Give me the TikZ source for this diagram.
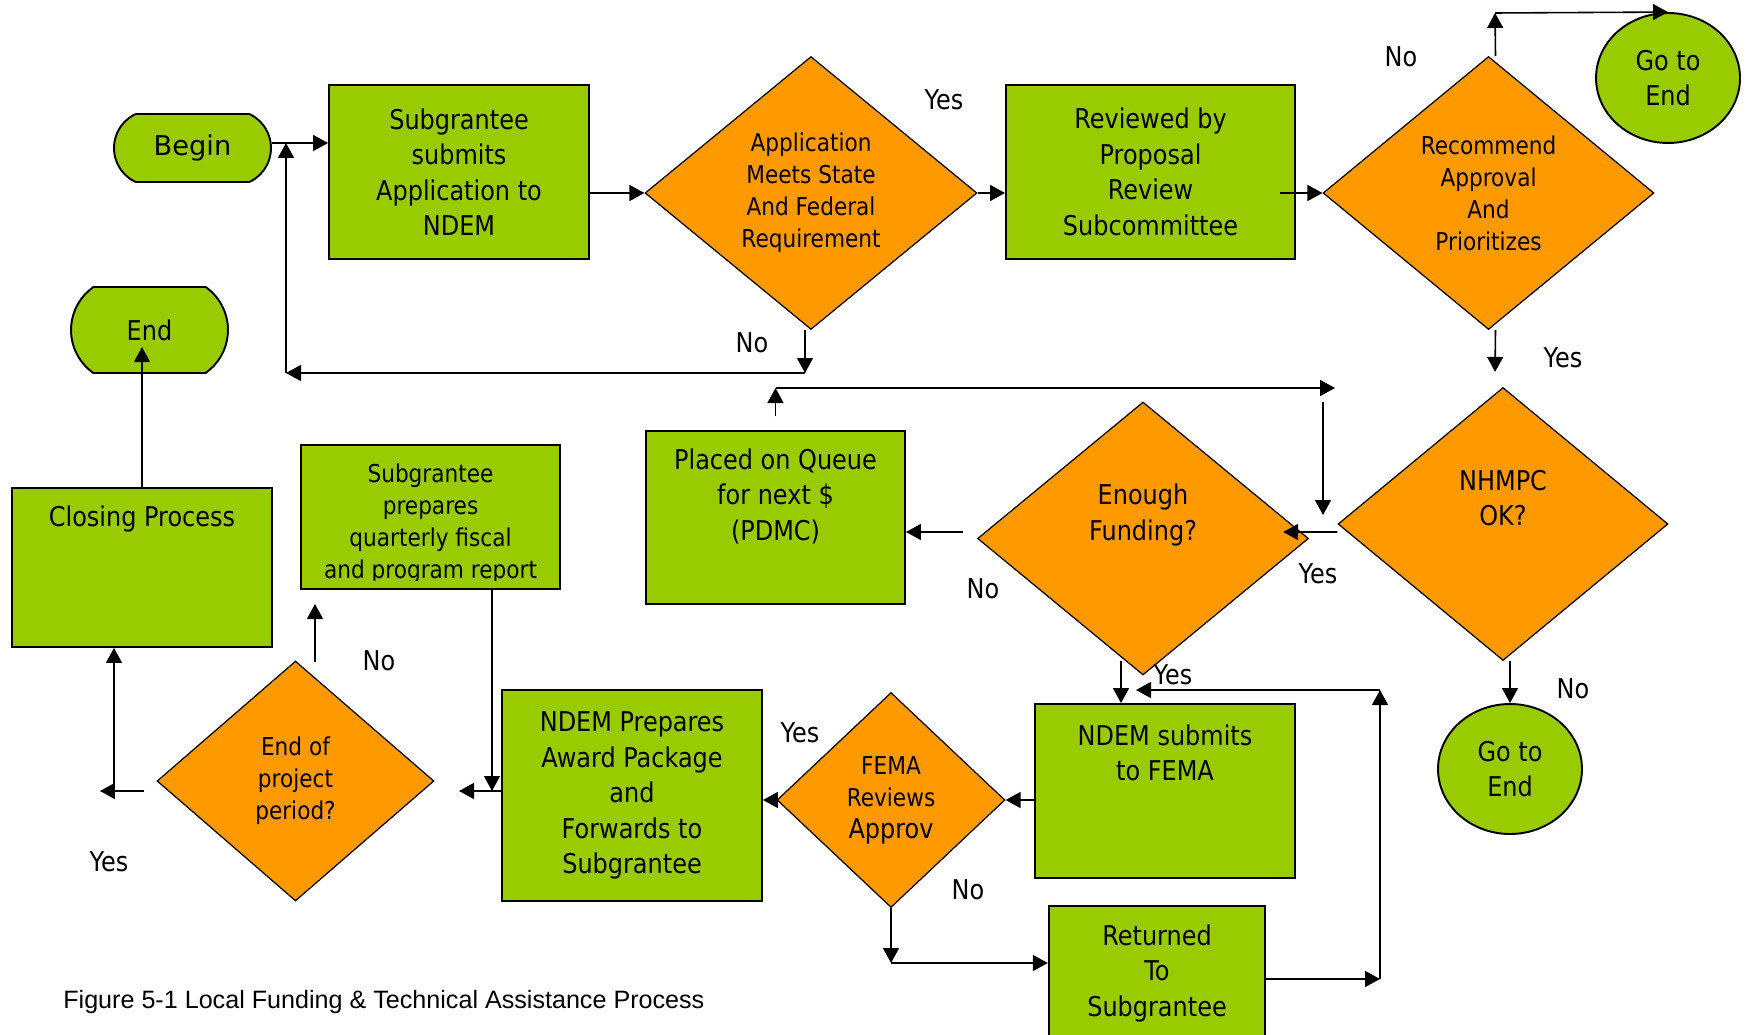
\documentclass[tikz,border=0pt]{standalone}
\usepackage{fontspec}
\setmainfont{DejaVu Sans}[FakeStretch=0.88]
\newfontfamily\widefont{DejaVu Sans}
\newfontfamily\capfont{Liberation Sans}
\usetikzlibrary{shapes.geometric,shapes.misc,arrows.meta}

\definecolor{boxgreen}{RGB}{153,204,0}
\definecolor{diaorange}{RGB}{255,153,0}
\newcommand\bigtxt{\fontsize{15.5}{20.2}\selectfont}
\newcommand\smalltxt{\fontsize{14}{18.2}\selectfont}

\tikzset{
  gbox/.style={draw, line width=1.1pt, fill=boxgreen, inner sep=0pt, align=center, font=\bigtxt},
  obox/.style={diamond, draw, line width=0.7pt, fill=diaorange, inner sep=0pt, align=center, font=\smalltxt},
  term/.style={rounded rectangle, draw, line width=1.1pt, fill=boxgreen, inner sep=0pt, font=\bigtxt},
  oval/.style={ellipse, draw, line width=1.1pt, fill=boxgreen, inner sep=0pt, align=center, font=\bigtxt},
  arr/.style={line width=0.9pt, -{Triangle[length=0.3cm,width=0.32cm]}},
  lbl/.style={font=\bigtxt, inner sep=0pt},
  txtL/.style={align=center, font=\bigtxt, inner sep=0pt},
  txtS/.style={align=center, font=\smalltxt, inner sep=0pt},
}

\begin{document}
\begin{tikzpicture}[x=0.02cm, y=-0.02cm]
\useasboundingbox (0,0) rectangle (1746,1034);

% 第一行
\node[term, rounded rectangle arc length=130, minimum width=3.14cm, minimum height=1.36cm, font=\widefont\bigtxt] (begin) at (192.5,148) {Begin};
\node[gbox, minimum width=5.2cm, minimum height=3.48cm] (sub) at (459,172) {Subgrantee\\submits\\Application to\\NDEM};
\node[obox, minimum width=6.64cm, minimum height=5.46cm] (app) at (811,193) {Application\\Meets State\\And Federal\\Requirement};
\node[gbox, minimum width=5.78cm, minimum height=3.48cm] (rev) at (1150.5,172) {Reviewed by\\Proposal\\Review\\Subcommittee};
\node[obox, minimum width=6.62cm, minimum height=5.46cm] (rec) at (1488.5,193) {Recommend\\Approval\\And\\Prioritizes};
\node[oval, minimum width=2.88cm, minimum height=2.6cm] (goend1) at (1668,78) {Go to\\End};

% 第二行
\node[term, rounded rectangle arc length=110, minimum width=3.14cm, minimum height=1.72cm] (end) at (149.5,330) {End};
\node[gbox, minimum width=5.2cm, minimum height=3.18cm] (closing) at (142,567.5) {};
\node[txtL] (closingtxt) at (142,519) {Closing Process};
\node[gbox, minimum width=5.18cm, minimum height=2.88cm] (report) at (430.5,517) {};
\begin{scope}
  \clip ([yshift=0.18cm]report.south west) rectangle (report.north east);
  \node[txtS] (reporttxt) at (430.5,524) {Subgrantee\\prepares\\quarterly fiscal\\and program report};
\end{scope}
\node[gbox, minimum width=5.18cm, minimum height=3.46cm] (queue) at (775.5,517.5) {};
\node[txtL] (queuetxt) at (775.5,496) {Placed on Queue\\for next \$\\(PDMC)};
\node[obox, minimum width=6.62cm, minimum height=5.46cm] (fund) at (1143,538.5) {};
\node[txtL] (fundtxt) at (1143,515) {Enough\\Funding?};
\node[obox, minimum width=6.6cm, minimum height=5.46cm] (nhmpc) at (1503,524) {};
\node[txtL] (nhmpctxt) at (1503,498) {NHMPC\\OK?};

% 第三行
\node[obox, minimum width=5.54cm, minimum height=4.8cm] (eop) at (295.5,781) {End of\\project\\period?};
\node[gbox, minimum width=5.2cm, minimum height=4.22cm] (award) at (632,795.5) {NDEM Prepares\\Award Package\\and\\Forwards to\\Subgrantee};
\node[obox, minimum width=4.56cm, minimum height=4.3cm] (fema) at (891,800) {FEMA\\Reviews\\{\bigtxt Approv}};
\node[gbox, minimum width=5.2cm, minimum height=3.48cm] (submit) at (1165,791) {};
\node[txtL] (submittxt) at (1165,753) {NDEM submits\\to FEMA};
\node[oval, minimum width=2.88cm, minimum height=2.6cm] (goend2) at (1510,769) {Go to\\End};
\node[gbox, minimum width=4.33cm, minimum height=3.08cm] (ret) at (1157,983) {};
\node[txtL] (rettxt) at (1157,973) {Returned\\To\\Subgrantee};

% 连线的端点
\coordinate (loopA) at (805,373);
\coordinate (loopB) at (286,373);
\coordinate (loopC) at (286,143);
\coordinate (noUp) at (1495,13);
\coordinate (qTop) at (775.5,388);
\coordinate (qRight) at (1335,388);
\coordinate (vTop) at (1323,402);
\coordinate (vEnd) at (1323,515);
\coordinate (fNoIn) at (963,532);
\coordinate (fYes) at (1121,661);
\coordinate (rA) at (1380,979);
\coordinate (rB) at (1380,690);
\coordinate (rC) at (1136,690);
\coordinate (fNo) at (891,963);
\coordinate (aEnd) at (459,791);
\coordinate (rDown) at (492,791);
\coordinate (eNoA) at (315,662);
\coordinate (eNoB) at (315,604);
\coordinate (yA) at (144,791);
\coordinate (yB) at (100,791);
\coordinate (yUp) at (114,791);
\coordinate (endTip) at (142,347);

% 连线
\draw[arr] (begin.east |- loopC) -- (sub.west |- loopC);
\draw[arr] (sub.east |- app.west) -- (app.west);
\draw[arr] ([xshift=-0.12cm]app.south) -- (loopA);
\draw[arr] (loopA) -- (loopB);
\draw[arr] (loopB) -- (loopC);
\draw[arr] (app.east) -- (app.east -| rev.west);
\draw[arr] ([xshift=-0.32cm]rev.east |- rec.west) -- (rec.west);
\draw[arr] ([xshift=0.14cm]rec.north) -- (noUp);
\draw[arr] (noUp) -- (goend1.north);
\draw[arr] ([xshift=0.14cm]rec.south) -- ([xshift=-0.16cm,yshift=0.3cm]nhmpc.north);
\draw[arr] ([yshift=-0.16cm]nhmpc.west) -- ([xshift=-0.52cm,yshift=0.13cm]fund.east);
\draw[arr] ([yshift=0.28cm]queue.north) -- (qTop);
\draw[arr] (qTop) -- (qRight);
\draw[arr] (vTop) -- (vEnd);
\draw[arr] (fNoIn) -- (fNoIn -| queue.east);
\draw[arr] (nhmpc.south -| goend2.north) -- (goend2.north);
\draw[arr] (fYes) -- (fYes |- submit.north);
\draw[arr] (ret.east |- rA) -- (rA);
\draw[arr] (rA) -- (rB);
\draw[arr] (rB) -- (rC);
\draw[arr] (submit.west |- fema.east) -- (fema.east);
\draw[arr] (fema.west) -- (fema.west -| award.east);
\draw[arr] (fema.south) -- (fNo);
\draw[arr] (fNo) -- (fNo -| ret.west);
\draw[arr] (award.west |- aEnd) -- (aEnd);
\draw[arr, line width=0.6pt] (rDown |- report.south) -- (rDown);
\draw[arr] (eNoA) -- (eNoB);
\draw[arr] (yA) -- (yB);
\draw[arr] (yUp) -- (yUp |- closing.south);
\draw[arr] (closing.north) -- (endTip);

% 标签
\node[lbl] (no1) at (752,343) {No};
\node[lbl] (yes1) at (944,100) {Yes};
\node[lbl] (no2) at (1401,57) {No};
\node[lbl] (yes2) at (1563,358) {Yes};
\node[lbl] (no3) at (983,589) {No};
\node[lbl] (yes3) at (1318,574) {Yes};
\node[lbl] (yes4) at (1173,675) {Yes};
\node[lbl] (no4) at (1573,689) {No};
\node[lbl] (yes5) at (800,733) {Yes};
\node[lbl] (no5) at (968,890) {No};
\node[lbl] (no6) at (379,661) {No};
\node[lbl] (yes6) at (109,862) {Yes};

% 图题
\node[anchor=west, inner sep=0pt, font=\capfont\fontsize{14.3}{17}\selectfont] (caption) at (63,1002) {Figure 5-1 Local Funding \& Technical Assistance Process};

\end{tikzpicture}
\end{document}
